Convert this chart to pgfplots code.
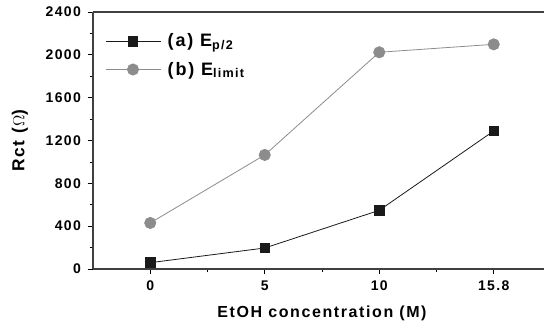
\documentclass[border=0pt]{standalone}
\usepackage{pgfplots}
\pgfplotsset{compat=1.18}
\usepackage{fontspec}
\setmainfont{Liberation Sans}
\newfontfamily\spfont[LetterSpace=10]{Liberation Sans}
\definecolor{cgray}{HTML}{8C8C8C}
\definecolor{cblack}{HTML}{1A1A1A}
\begin{document}
\begin{tikzpicture}[x=1pt,y=1pt]
\clip (-69.75,-41.25) rectangle (338.25,201.75);
\begin{axis}[
  at={(0,0)}, anchor=south west,
  scale only axis,
  width=343.5pt, height=192.75pt,
  xmin=-0.5, xmax=3.5,
  ymin=0, ymax=2400,
  xtick={0,1,2,3},
  xticklabels={0,5,10,15.8},
  minor xtick={0.5,1.5,2.5},
  ytick={0,400,800,1200,1600,2000,2400},
  minor ytick={200,600,1000,1400,1800,2200},
  xtick pos=lower, ytick pos=left,
  tick align=outside,
  major tick length=4pt,
  minor tick length=2.5pt,
  every tick/.style={black, line width=0.6pt},
  axis line style={draw=none},
  ticklabel style={font=\spfont\bfseries\fontsize{10.5}{12}\selectfont},
  xticklabel style={yshift=-1.5pt},
  yticklabel style={xshift=-1.5pt},
  /pgf/number format/assume math mode=true,
  scaled y ticks=false,
  yticklabel={\pgfmathprintnumber[fixed,1000 sep={}]{\tick}},
  xlabel={EtOH concentration (M)},
  ylabel={Rct (\textmd{$\Omega$})},
  every axis x label/.style={at={(axis description cs:0.5,0)}, anchor=center, yshift=-33pt,
     font=\spfont\bfseries\fontsize{12}{14}\selectfont},
  every axis y label/.style={at={(axis description cs:0,0.5)}, xshift=-54.75pt, rotate=90, anchor=center,
     font=\spfont\bfseries\fontsize{13}{15}\selectfont},
  legend style={draw=none, fill=none, at={(rel axis cs:0,1)}, anchor=north west,
    xshift=6pt, yshift=-12pt, column sep=3pt,
    font=\spfont\bfseries\fontsize{13.5}{15}\selectfont, row sep=6pt},
  legend cell align=left,
  legend image code/.code={\draw[#1, mark repeat=2, mark phase=2] plot coordinates {(0cm,0cm) (0.72cm,0cm) (1.45cm,0cm)};},
  clip=false,
]
\draw[line width=0.8pt, color=black!75] (rel axis cs:0,0) -- (rel axis cs:0,1);
\draw[line width=0.8pt, color=black!75] (rel axis cs:0,0) -- (rel axis cs:1,0);
\draw[line width=0.8pt, color=black!75] (rel axis cs:0,1) -- (rel axis cs:1,1);
\addplot[cblack, line width=0.6pt, mark=square*, mark size=3.6pt, mark options={fill=cblack, draw=cblack}]
  coordinates {(0,59) (1,196) (2,548) (3,1289)};
\addlegendentry{(a) E\textsubscript{p/2}}
\addplot[cgray, line width=0.6pt, mark=*, mark size=4.2pt, mark options={fill=cgray, draw=cgray}]
  coordinates {(0,430) (1,1065) (2,2024) (3,2098)};
\addlegendentry{(b) E\textsubscript{limit}}
\end{axis}
\end{tikzpicture}
\end{document}
